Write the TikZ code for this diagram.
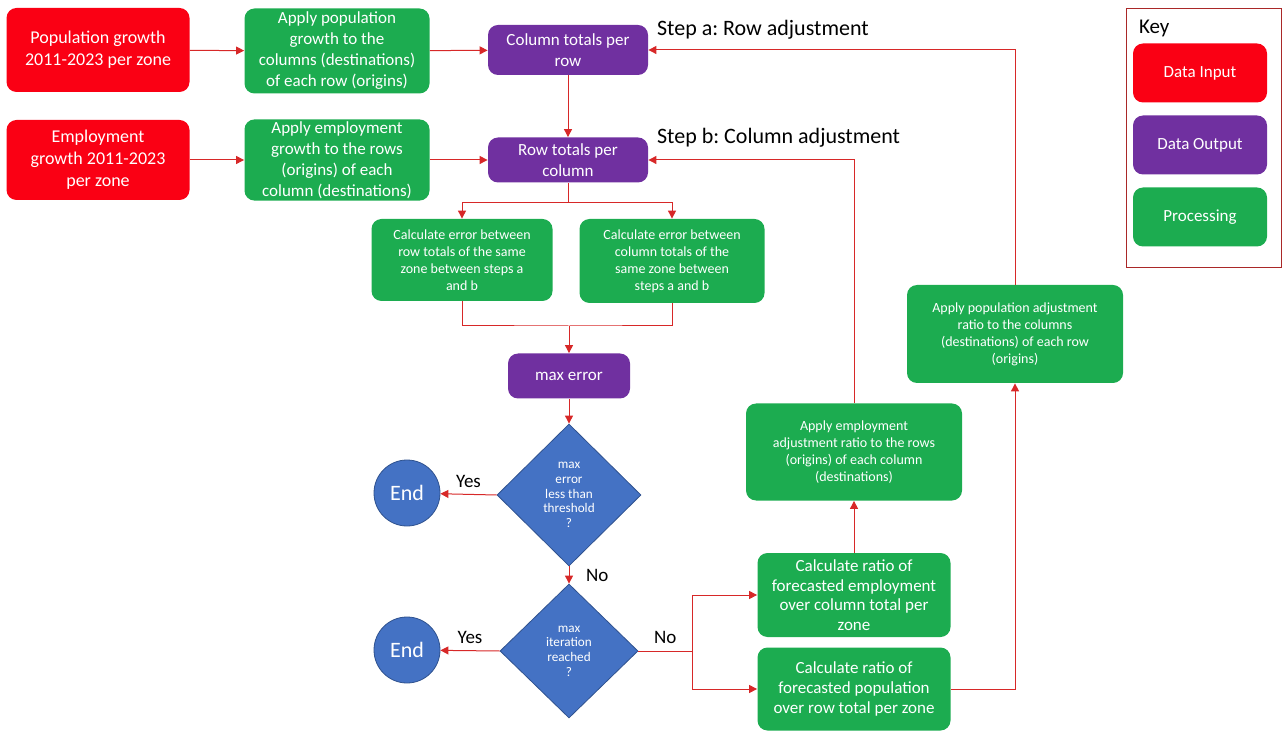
\documentclass[tikz,border=0pt]{standalone}
\usepackage{fontspec}
\setmainfont{Carlito}
\usepackage{tikz}
\usetikzlibrary{positioning, arrows.meta, shapes.geometric}
\definecolor{inred}{RGB}{250,0,20}
\definecolor{outpurple}{RGB}{112,48,160}
\definecolor{procgreen}{RGB}{28,172,80}
\definecolor{decblue}{RGB}{68,114,196}
\definecolor{decedge}{RGB}{47,82,143}
\definecolor{linkred}{RGB}{215,40,40}
\definecolor{keyedge}{RGB}{170,40,40}
\tikzset{
box/.style={shape=rectangle, rounded corners=5pt, inner sep=1pt, align=center, text=white, font=\fontsize{8.5}{10.5}\selectfont}, input/.style={box, fill=inred, font=\fontsize{9}{11}\selectfont}, output/.style={box, fill=outpurple}, process/.style={box, fill=procgreen}, smallprocess/.style={process, font=\fontsize{7}{8.5}\selectfont},
decision/.style={diamond, draw=decedge, fill=decblue, inner sep=0, align=center, text=white, font=\fontsize{6.6}{7.3}\selectfont}, stop/.style={circle, draw=decedge, fill=decblue, minimum size=33pt, inner sep=0, text=white, font=\fontsize{11}{13}\selectfont},
link/.style={draw=linkred, line width=0.5pt}, note/.style={font=\fontsize{9.5}{11}\selectfont}}

\begin{document}
\frenchspacing
\begin{tikzpicture}[x=0.5pt, y=-0.5pt, >={Triangle[length=4pt, width=4pt]}]
\useasboundingbox (0,0) rectangle (1283,731);
% inputs and first adjustment
\node [input, minimum width=91.5pt, minimum height=42pt] at (98, 50) (pop-in) {Population growth\\2011-2023 per zone};
\node [input, minimum width=91.5pt, minimum height=40pt] at (98, 160) (emp-in) {Employment\\growth 2011-2023\\per zone};
\node [process, minimum width=92.5pt, minimum height=42.5pt] at (337, 51) (pop-grow) {Apply population\\growth to the\\columns (destinations)\\of each row (origins)};
\node [process, minimum width=92.5pt, minimum height=40pt] at (337, 160) (emp-grow) {Apply employment\\growth to the rows\\(origins) of each\\column (destinations)};
\node [output, minimum width=80pt, minimum height=25pt] at (568, 50) (col-tot) {Column totals per\\row};
\node [output, minimum width=80pt, minimum height=22.5pt] at (568, 160) (row-tot) {Row totals per\\column};
\node [note, anchor=west, font=\fontsize{11}{13}\selectfont] at (650, 30) (step-a) {Step a: Row adjustment};
\node [note, anchor=west, font=\fontsize{11}{13}\selectfont] at (650, 138) (step-b) {Step b: Column adjustment};
\draw [link, ->] (pop-in) -- (pop-grow);
\draw [link, ->] (pop-grow) -- (col-tot);
\draw [link, ->] (emp-in) -- (emp-grow);
\draw [link, ->] (emp-grow) -- (row-tot);
\draw [link, ->] (col-tot) -- (row-tot);

% errors
\node [smallprocess, minimum width=90.5pt, minimum height=41pt] at (462, 260) (err-row) {Calculate error between\\row totals of the same\\zone between steps a\\and b};
\node [smallprocess, minimum width=92.5pt, minimum height=42pt] at (672, 261) (err-col) {Calculate error between\\column totals of the\\same zone between\\steps a and b};
\coordinate (split) at (568, 203);
\coordinate (join) at (569, 326);
\draw [link] (row-tot) -- (split);
\draw [link, ->] (split) -| (err-row.north);
\draw [link, ->] (split) -| (err-col.north);
\draw [link] (err-row.south) |- (join) -| (err-col.south);
\node [output, minimum width=61pt, minimum height=22.5pt] at (569, 376) (max-err) {max error};
\draw [link, ->] (join) -- (max-err);

% decisions
\node [decision, minimum width=72pt, minimum height=71pt] at (569, 495) (thresh) {max\\error\\less than\\threshold\\?};
\node [decision, minimum width=69pt, minimum height=67pt] at (569, 651) (iter) {max\\iteration\\reached\\?};
\node [stop] at (407, 493) (end-1) {End};
\node [stop] at (407, 650) (end-2) {End};
\coordinate (fork) at (692, 651);
\draw [link, ->] (max-err) -- (thresh);
\draw [link, ->] (thresh.west) -- node [note, above] {Yes} (end-1);
\draw [link, ->] (thresh.south) -- node [note, right=5pt] {No} (iter.north);
\draw [link, ->] (iter.west) -- node [note, above] {Yes} (end-2);
\draw [link] (iter.east) -- node [note, above] {No} (fork);

% second adjustment
\node [process, minimum width=96.5pt, minimum height=42pt, font=\fontsize{8.5}{9.8}\selectfont] at (854, 595) (ratio-emp) {Calculate ratio of\\forecasted employment\\over column total per\\zone};
\node [process, minimum width=96.5pt, minimum height=41.5pt, font=\fontsize{8.5}{9.8}\selectfont] at (854, 689) (ratio-pop) {Calculate ratio of\\forecasted population\\over row total per zone};
\node [smallprocess, minimum width=108pt, minimum height=48.5pt] at (854, 452) (adj-emp) {Apply employment\\adjustment ratio to the rows\\(origins) of each column\\(destinations)};
\node [smallprocess, minimum width=108pt, minimum height=49pt] at (1015, 334) (adj-pop) {Apply population adjustment\\ratio to the columns\\(destinations) of each row\\(origins)};
\draw [link, ->] (fork) |- (ratio-emp.west);
\draw [link, ->] (fork) |- (ratio-pop.west);
\draw [link, ->] (ratio-emp) -- (adj-emp);
\draw [link, ->] (ratio-pop.east) -| (adj-pop.south);
\draw [link, ->] (adj-emp.north) |- (row-tot.east);
\draw [link, ->] (adj-pop.north) |- (col-tot.east);

% key
\node [draw=keyedge, line width=0.6pt, minimum width=77.5pt, minimum height=129.5pt, inner sep=0] at (1204, 138) (key) {};
\node [anchor=west, font=\fontsize{10.5}{12}\selectfont] at (1132, 28) (key-title) {Key};
\foreach \kstyle/\klabel [count=\k] in {input/Data Input, output/Data Output, process/Processing}{
      \node [\kstyle, font=\fontsize{8.5}{10}\selectfont, minimum width=67pt, minimum height=29.5pt] at (1200, 1 + 72 * \k) (key-\k) {\klabel};
}
\end{tikzpicture}
\end{document}
